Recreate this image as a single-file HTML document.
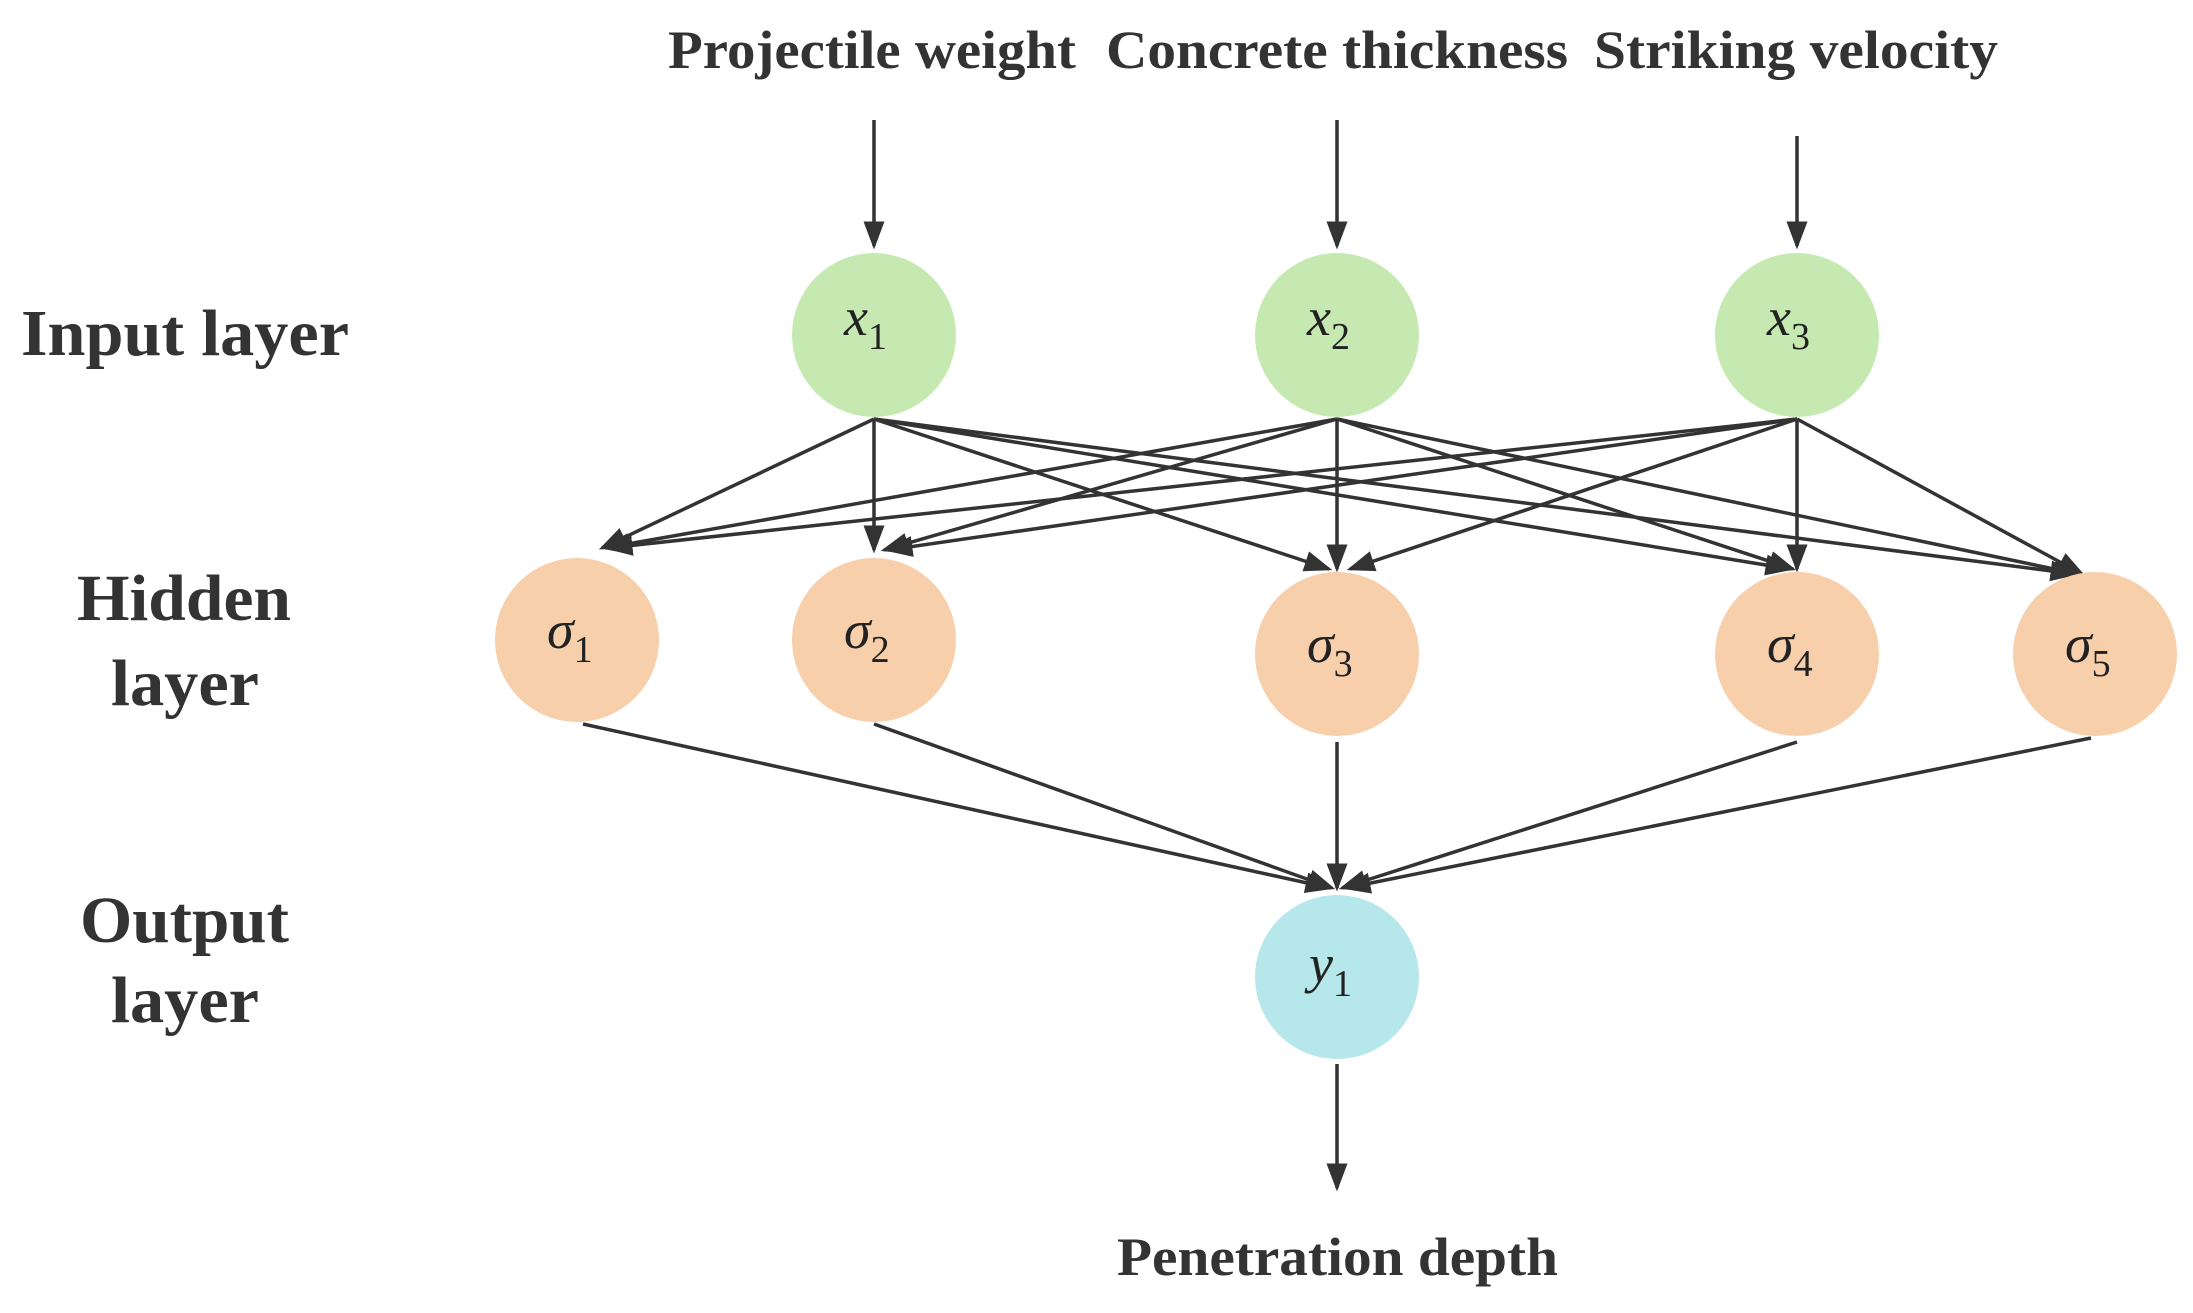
<!DOCTYPE html>
<html><head><meta charset="utf-8"><style>
html,body{margin:0;padding:0;background:#fff}
svg{display:block}
.t{font-family:"Liberation Serif",serif;font-weight:bold;fill:#333}
.m{font-family:"Liberation Serif",serif;font-style:italic;fill:#222}
</style></head><body>
<svg width="2193" height="1313" viewBox="0 0 2193 1313" xmlns="http://www.w3.org/2000/svg">
<defs>
<marker id="a" markerWidth="8" markerHeight="8" refX="7" refY="4" orient="auto" markerUnits="strokeWidth">
<path d="M0,1 L8,4 L0,7 Z" fill="#333"/></marker>
</defs>
<g class="t" font-size="54">
<text x="668" y="68" textLength="408" lengthAdjust="spacingAndGlyphs">Projectile weight</text>
<text x="1106" y="68" textLength="462" lengthAdjust="spacingAndGlyphs">Concrete thickness</text>
<text x="1594" y="68" textLength="404" lengthAdjust="spacingAndGlyphs">Striking velocity</text>
<text x="1117" y="1275" textLength="441" lengthAdjust="spacingAndGlyphs">Penetration depth</text>
</g>
<g class="t" font-size="66">
<text x="21" y="355" textLength="328" lengthAdjust="spacingAndGlyphs">Input layer</text>
<text x="77" y="620" textLength="214" lengthAdjust="spacingAndGlyphs">Hidden</text>
<text x="111" y="705" textLength="148" lengthAdjust="spacingAndGlyphs">layer</text>
<text x="80" y="942" textLength="209" lengthAdjust="spacingAndGlyphs">Output</text>
<text x="111" y="1022" textLength="148" lengthAdjust="spacingAndGlyphs">layer</text>
</g>
<g stroke="#333" stroke-width="3.5" fill="none" marker-end="url(#a)">
<line x1="874" y1="120" x2="874" y2="246"/>
<line x1="1337" y1="120" x2="1337" y2="246"/>
<line x1="1797" y1="136" x2="1797" y2="246"/>
<line x1="1337" y1="1064" x2="1337" y2="1188"/>
<line x1="874" y1="419" x2="602" y2="548"/>
<line x1="874" y1="419" x2="874" y2="550"/>
<line x1="874" y1="419" x2="1329" y2="569"/>
<line x1="874" y1="419" x2="1790" y2="569"/>
<line x1="874" y1="419" x2="2075" y2="574"/>
<line x1="1337" y1="419" x2="605" y2="548"/>
<line x1="1337" y1="419" x2="884" y2="550"/>
<line x1="1337" y1="419" x2="1337" y2="569"/>
<line x1="1337" y1="419" x2="1793" y2="569"/>
<line x1="1337" y1="419" x2="2078" y2="574"/>
<line x1="1797" y1="419" x2="608" y2="548"/>
<line x1="1797" y1="419" x2="888" y2="550"/>
<line x1="1797" y1="419" x2="1350" y2="569"/>
<line x1="1797" y1="419" x2="1797" y2="569"/>
<line x1="1797" y1="419" x2="2082" y2="574"/>
<line x1="583" y1="724" x2="1330" y2="888"/>
<line x1="874" y1="724" x2="1332" y2="888"/>
<line x1="1337" y1="742" x2="1337" y2="888"/>
<line x1="1797" y1="742" x2="1342" y2="888"/>
<line x1="2091" y1="738" x2="1346" y2="888"/>
</g>
<g>
<circle cx="874" cy="335" r="82" fill="#c6e9b2"/>
<circle cx="1337" cy="335" r="82" fill="#c6e9b2"/>
<circle cx="1797" cy="335" r="82" fill="#c6e9b2"/>
<circle cx="577" cy="640" r="82" fill="#f7cfab"/>
<circle cx="874" cy="640" r="82" fill="#f7cfab"/>
<circle cx="1337" cy="654" r="82" fill="#f7cfab"/>
<circle cx="1797" cy="654" r="82" fill="#f7cfab"/>
<circle cx="2095" cy="654" r="82" fill="#f7cfab"/>
<circle cx="1337" cy="977" r="82" fill="#b5e7eb"/>
</g>
<g class="m" font-size="54">
<text x="844" y="335">x<tspan font-size="38" font-style="normal" dy="14">1</tspan></text>
<text x="1307" y="335">x<tspan font-size="38" font-style="normal" dy="14">2</tspan></text>
<text x="1767" y="335">x<tspan font-size="38" font-style="normal" dy="14">3</tspan></text>
<text x="547" y="648">σ<tspan font-size="38" font-style="normal" dy="14">1</tspan></text>
<text x="844" y="648">σ<tspan font-size="38" font-style="normal" dy="14">2</tspan></text>
<text x="1307" y="662">σ<tspan font-size="38" font-style="normal" dy="14">3</tspan></text>
<text x="1767" y="662">σ<tspan font-size="38" font-style="normal" dy="14">4</tspan></text>
<text x="2065" y="662">σ<tspan font-size="38" font-style="normal" dy="14">5</tspan></text>
<text x="1309" y="982">y<tspan font-size="38" font-style="normal" dy="14">1</tspan></text>
</g>
</svg>
</body></html>
